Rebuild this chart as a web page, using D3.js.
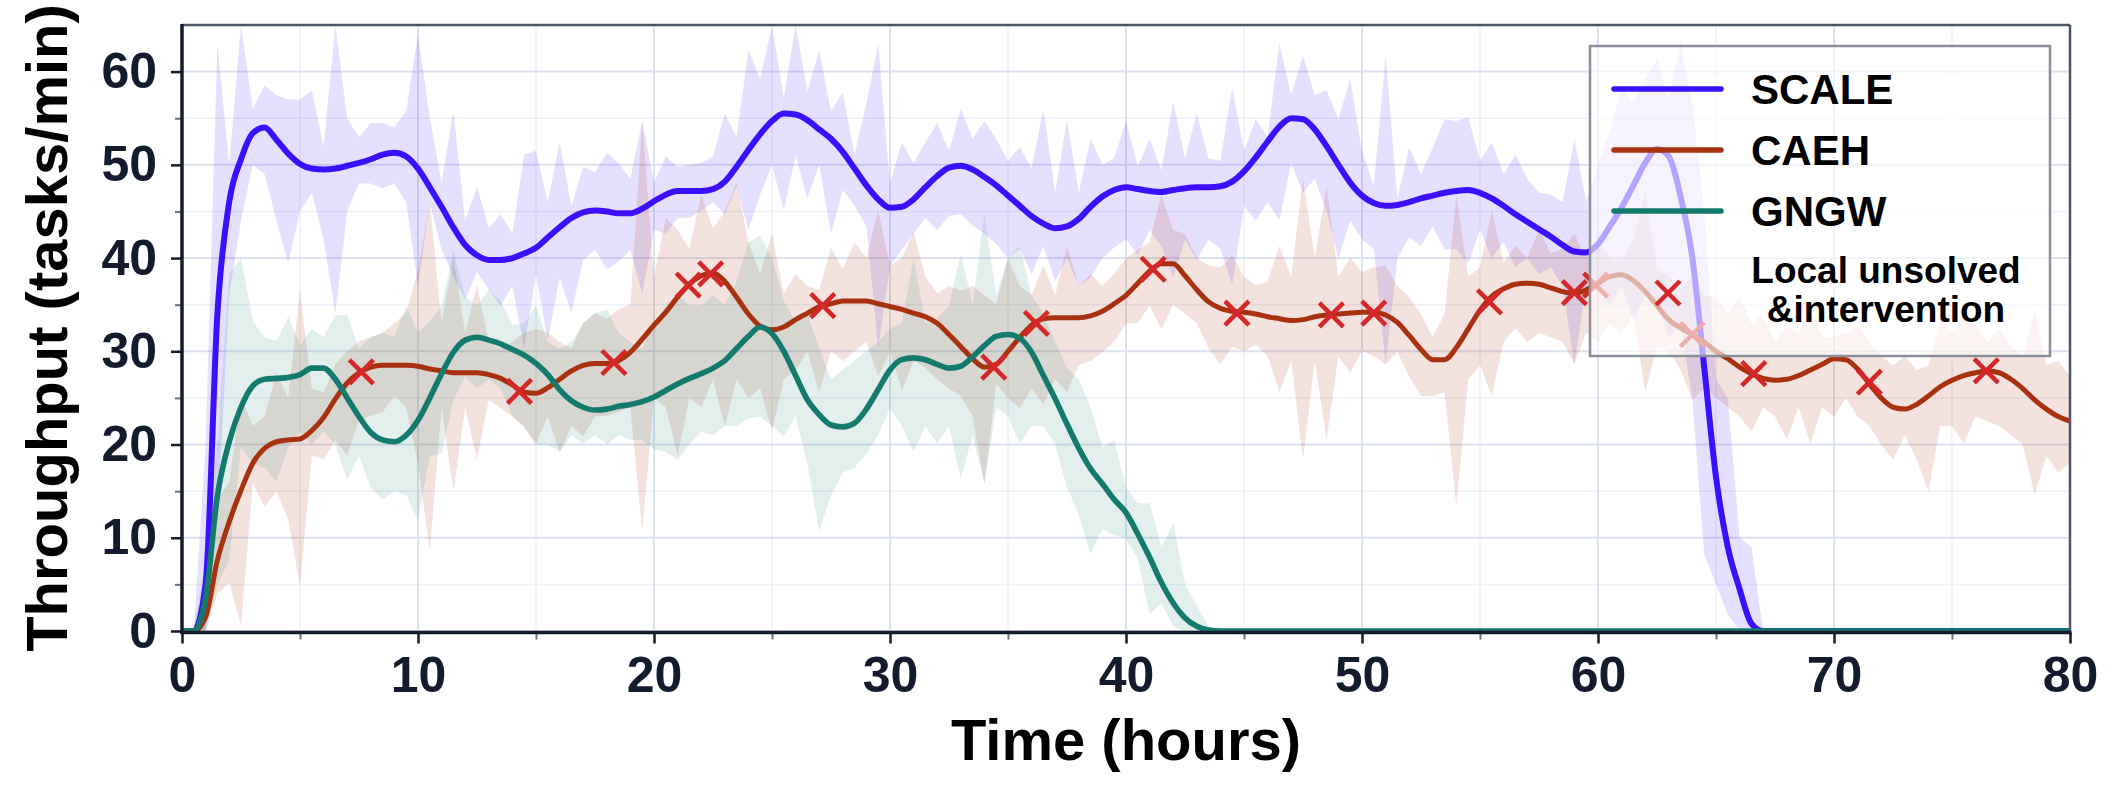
<!DOCTYPE html>
<html>
<head>
<meta charset="utf-8">
<script src="https://cdn.jsdelivr.net/npm/d3@7"></script>
<style>
  body { margin: 0; background: #fff; }
  svg text { font-family: 'Liberation Sans', Arial, sans-serif; font-weight: 700; }
</style>
</head>
<body>
<svg id="chart" width="2125" height="799"></svg>
<script>
// Time stamps (hours), one sample every half hour
const hours = d3.range(0, 80.5, 0.5);

// SCALE throughput: smoothed mean and spread band
const scaleMean = [
  0, 0, 5, 34, 46, 50.6, 53.4, 54.0, 52.7, 51.2,
  50.1, 49.6, 49.5, 49.6, 49.9, 50.2, 50.6, 51.1, 51.3, 50.9,
  49.6, 47.6, 45.5, 43.3, 41.4, 40.3, 39.8, 39.8, 40.0, 40.5,
  41.1, 42.2, 43.3, 44.3, 44.9, 45.1, 45.0, 44.8, 44.8, 45.3,
  46.1, 46.8, 47.2, 47.2, 47.2, 47.4, 48.2, 49.8, 51.6, 53.3,
  54.7, 55.5, 55.4, 54.8, 53.8, 52.8, 51.4, 49.6, 47.8, 46.3,
  45.4, 45.5, 46.3, 47.6, 48.8, 49.7, 49.9, 49.5, 48.7, 47.8,
  46.7, 45.6, 44.5, 43.7, 43.2, 43.4, 44.2, 45.5, 46.6, 47.3,
  47.6, 47.4, 47.2, 47.1, 47.3, 47.5, 47.6, 47.6, 47.7, 48.2,
  49.3, 50.8, 52.5, 54.1, 55.0, 54.9, 53.8, 52.0, 50.0, 48.1,
  46.7, 45.9, 45.6, 45.7, 46.0, 46.4, 46.7, 47.0, 47.2, 47.3,
  47.0, 46.4, 45.6, 44.7, 43.9, 43.1, 42.3, 41.4, 40.7, 40.6,
  41.5, 43.4, 45.4, 47.8, 50.2, 51.7, 50.9, 46.6, 40.0, 28.3,
  16.5, 9.0, 4.5, 0.8, 0, 0, 0, 0, 0, 0,
  0, 0, 0, 0, 0, 0, 0, 0, 0, 0,
  0, 0, 0, 0, 0, 0, 0, 0, 0, 0,
  0
];
const scaleUpper = [
  0, 0, 20, 63, 50, 65, 56, 58.5, 57.5, 57,
  57, 58, 52, 65, 55, 53, 54.5, 54.5, 54, 55.8,
  64, 55.1, 48.1, 55.8, 44, 47.7, 43.2, 44.7, 42.6, 51.1,
  51.5, 46, 52.4, 45.6, 49.8, 49.2, 51.3, 50.2, 48.5, 54.7,
  48.1, 50.9, 49.8, 50, 50.2, 50.9, 55.5, 53, 62.3, 59.2,
  65, 57.2, 65, 57.9, 62.3, 55.8, 57.7, 51.1, 56.6, 63,
  48, 52.4, 50.2, 52.4, 54.5, 51.5, 56, 52.8, 54.7, 52.8,
  50.4, 51.9, 49.6, 56, 47, 54.9, 47, 52.8, 50, 50.7,
  54.7, 49.8, 52.8, 49.4, 56.8, 50.7, 55.5, 50.7, 50.4, 58.3,
  51.5, 54.9, 53, 63, 57.5, 61.7, 57.5, 58, 54.9, 59.2,
  51.5, 47.7, 61.7, 46.4, 51.9, 49, 51.9, 54.9, 54.7, 55.1,
  50.5, 52.4, 49, 51.1, 48.5, 47, 46.8, 46, 52.8, 46,
  50, 53.6, 58.3, 56.6, 59.2, 61.3, 57, 63.2, 56.6, 45,
  27, 25, 10, 9, 0, 0, 0, 0, 0, 0,
  0, 0, 0, 0, 0, 0, 0, 0, 0, 0,
  0, 0, 0, 0, 0, 0, 0, 0, 0, 0,
  0
];
const scaleLower = [
  0, 0, 0, 12, 36, 44, 50, 49, 44, 39.5,
  45, 47, 42, 34, 45, 48, 48, 47.5, 48, 46,
  37, 45.9, 40.9, 38, 35.5, 38.5, 36.6, 34.9, 37, 30.3,
  38.3, 31.1, 37.9, 34.1, 39.8, 40.9, 38.8, 39.6, 40.9, 36.2,
  43, 42.6, 44.3, 44.3, 45.1, 46, 44.7, 47.7, 43, 46.8,
  50, 45.1, 51, 46.4, 50, 42.6, 47.3, 45.6, 43.4, 30.3,
  39.2, 40.9, 42.6, 44.3, 43, 44.5, 44.7, 43.5, 42.6, 41.5,
  40, 41, 38.3, 41.3, 37.5, 40, 37, 37.9, 40, 41.1,
  42, 40.3, 43, 41.3, 37.9, 42, 39.8, 42, 41, 37.1,
  45.6, 44, 46, 44, 50.2, 47, 48.5, 45, 40, 44,
  42, 41, 28.6, 40, 42.2, 41.3, 43.4, 40.9, 41, 39.4,
  43, 40, 41.7, 39, 40, 38.3, 39, 37, 28.6, 37,
  36.6, 35, 37, 33.2, 36, 35, 31.5, 33, 24.8, 8.2,
  5, 1.8, 0, 0, 0, 0, 0, 0, 0, 0,
  0, 0, 0, 0, 0, 0, 0, 0, 0, 0,
  0, 0, 0, 0, 0, 0, 0, 0, 0, 0,
  0
];

// CAEH throughput
const caehMean = [
  0, 0, 1.5, 7.6, 11.7, 15.1, 18.0, 19.6, 20.3, 20.5,
  20.6, 21.5, 22.9, 24.9, 26.6, 27.7, 28.3, 28.5, 28.5, 28.5,
  28.4, 28.1, 27.9, 27.7, 27.7, 27.7, 27.5, 27.1, 26.4, 25.6,
  25.5, 26.1, 27.0, 27.9, 28.5, 28.7, 28.7, 29.0, 29.9, 31.3,
  32.8, 34.2, 35.8, 37.2, 38.1, 38.4, 37.5, 35.8, 34.0, 32.7,
  32.3, 32.6, 33.4, 34.1, 34.8, 35.1, 35.4, 35.4, 35.4, 35.1,
  34.8, 34.5, 34.1, 33.7, 33.0, 31.8, 30.5, 29.2, 28.3, 28.6,
  30.0, 31.5, 32.8, 33.5, 33.6, 33.6, 33.6, 33.8, 34.3, 35.1,
  36.0, 37.3, 38.6, 39.4, 39.4, 38.1, 36.6, 35.3, 34.6, 34.3,
  34.2, 34.0, 33.7, 33.5, 33.3, 33.4, 33.7, 33.9, 34.0, 34.1,
  34.2, 34.2, 33.9, 33.1, 31.7, 30.2, 29.1, 29.1, 30.4, 32.4,
  34.4, 35.9, 36.7, 37.2, 37.3, 37.2, 36.8, 36.4, 36.2, 36.6,
  37.3, 38.0, 38.2, 37.6, 36.4, 34.9, 33.4, 32.5, 31.8, 31.0,
  30.0, 29.2, 28.3, 27.6, 27.1, 26.9, 27.0, 27.4, 28.0, 28.6,
  29.2, 29.1, 28.1, 26.5, 25.0, 24.0, 23.8, 24.3, 25.2, 26.2,
  26.9, 27.4, 27.7, 27.9, 27.7, 27.0, 26.0, 24.8, 23.8, 23.0,
  22.5
];
const caehUpper = [
  0, 0, 3, 14, 16, 25, 22, 23, 27.7, 25,
  36.6, 26, 25.6, 28.6, 30, 31.1, 31.5, 32, 33, 34.1,
  38.8, 46, 33, 40, 32, 37.1, 31, 30.3, 31, 32,
  32.4, 32, 31, 30.3, 33, 34.1, 33.5, 34.5, 35, 54.7,
  38, 44.3, 43, 41, 46.8, 43.2, 45, 48.1, 41.7, 38.3,
  42.6, 36.2, 38.3, 37, 36.6, 41.1, 38.8, 41.7, 40, 45.1,
  39.2, 40, 42.8, 38, 36.2, 37, 36.5, 37, 36, 35,
  40, 37, 36, 39.2, 36, 41.3, 37, 38.3, 37, 38.3,
  40, 40.9, 41.7, 46.8, 43, 42.6, 40, 39.2, 39, 40.3,
  38, 37.1, 37.5, 41.3, 38, 48.5, 40, 47.7, 38, 40,
  38.5, 39, 39.2, 37, 35.8, 34, 31.5, 34, 46.8, 38,
  39, 45.1, 39.5, 41.3, 40, 43, 40.5, 41, 42.6, 40,
  41.7, 40, 39.6, 42, 47.3, 39, 38, 36.5, 38.3, 36,
  35.8, 34, 35.8, 33, 33.9, 31, 32.8, 32, 34.5, 31.5,
  31.5, 32, 32.8, 31, 29.5, 28.5, 29.5, 28, 28.5, 33.6,
  32, 33.7, 33, 31, 32.4, 30.5, 29.5, 34.5, 28.5, 29,
  27.3
];
const caehLower = [
  0, 0, 0, 4, 5.2, 0.6, 15.8, 13.3, 15, 12,
  4.8, 18.8, 18.4, 20.5, 18.8, 22.6, 23.1, 23.5, 25.2, 24,
  18, 8.6, 24, 15, 24, 18.4, 24.8, 23.9, 23, 21.8,
  20.1, 23, 19.2, 22, 20.9, 23, 23.1, 23.5, 24, 10.7,
  25, 24, 18.8, 25, 24, 27, 22, 27, 25, 26,
  21.4, 27, 28, 30, 25.6, 30, 29, 30, 31, 27.3,
  30, 25.8, 29, 28.2, 27, 26, 25.2, 23.1, 15.8, 26.5,
  25, 23.9, 26, 24.3, 27, 25.6, 28.5, 29, 29.9, 31,
  33, 33, 34.9, 32.4, 35, 34, 33, 30.3, 28.6, 30.5,
  30, 30.7, 29.5, 25.6, 29, 18.4, 29, 20.5, 29.5, 27.7,
  30, 29.5, 28.6, 29.9, 27.3, 25.2, 25.2, 25.6, 13.3, 27,
  28.5, 25.2, 31, 32.5, 31, 32, 31.5, 31, 28.6, 32,
  31, 33, 32, 34, 25.6, 30.5, 30, 28, 24.8, 26,
  25, 24, 23, 21.4, 24, 23, 20.5, 24, 20.1, 24,
  23, 25, 23, 22, 20, 18.4, 21, 18.4, 15, 22,
  22, 20.1, 23, 22.5, 22, 21, 20, 14.6, 18.8, 17,
  18
];

// GNGW throughput
const gngwMean = [
  0, 0, 3.5, 14.5, 20.3, 24.0, 26.3, 27.0, 27.1, 27.2,
  27.5, 28.2, 28.2, 27.0, 25.0, 23.0, 21.3, 20.5, 20.3, 21.0,
  22.6, 25.0, 27.6, 29.9, 31.2, 31.5, 31.2, 30.8, 30.2, 29.6,
  28.7, 27.5, 25.9, 24.7, 24.0, 23.7, 23.8, 24.1, 24.3, 24.6,
  25.1, 25.8, 26.5, 27.1, 27.6, 28.2, 29.0, 30.3, 31.6, 32.6,
  31.9, 30.0, 27.4, 24.8, 23.2, 22.1, 21.9, 22.3, 23.8, 25.9,
  28.0, 29.1, 29.3, 29.1, 28.6, 28.2, 28.4, 29.4, 30.6, 31.6,
  31.8, 31.4, 29.9, 27.4, 24.9, 22.2, 19.6, 17.4, 15.8, 14.1,
  12.7, 10.4, 7.9, 5.2, 3.0, 1.4, 0.5, 0.1, 0, 0,
  0, 0, 0, 0, 0, 0, 0, 0, 0, 0,
  0, 0, 0, 0, 0, 0, 0, 0, 0, 0,
  0, 0, 0, 0, 0, 0, 0, 0, 0, 0,
  0, 0, 0, 0, 0, 0, 0, 0, 0, 0,
  0, 0, 0, 0, 0, 0, 0, 0, 0, 0,
  0, 0, 0, 0, 0, 0, 0, 0, 0, 0,
  0, 0, 0, 0, 0, 0, 0, 0, 0, 0,
  0
];
const gngwUpper = [
  0, 0, 8, 20, 38.3, 40, 33.2, 31.5, 31.1, 33.7,
  30.7, 32.4, 31.5, 33.9, 33.9, 30.3, 31.5, 32, 31.5, 34.9,
  32, 33.2, 34.9, 40.9, 35.8, 34.9, 36.6, 35.4, 32.8, 33,
  34.9, 31, 30.3, 31, 33, 34.1, 34.5, 32, 31, 30.3,
  33, 34.9, 36, 35, 34.9, 36, 35, 37.5, 41.7, 42.4,
  40, 35.4, 33.2, 34, 30.3, 27, 28, 29, 30, 31,
  32.4, 33, 40, 33, 33.5, 34.9, 40.5, 35, 44.7, 36,
  40, 41.3, 36, 34, 31, 28.2, 27, 24, 19.7, 20.5,
  15.4, 13.7, 13.7, 9, 11.6, 5, 2.7, 0.5, 0, 0,
  0, 0, 0, 0, 0, 0, 0, 0, 0, 0,
  0, 0, 0, 0, 0, 0, 0, 0, 0, 0,
  0, 0, 0, 0, 0, 0, 0, 0, 0, 0,
  0, 0, 0, 0, 0, 0, 0, 0, 0, 0,
  0, 0, 0, 0, 0, 0, 0, 0, 0, 0,
  0, 0, 0, 0, 0, 0, 0, 0, 0, 0,
  0, 0, 0, 0, 0, 0, 0, 0, 0, 0,
  0
];
const gngwLower = [
  0, 0, 0, 5, 7.6, 19.7, 18, 17.5, 16, 19.7,
  21.4, 20, 21.4, 20, 16.2, 18.8, 15.4, 14.1, 15, 14.6,
  11.9, 18.8, 19, 24.8, 27.3, 26, 27, 26, 23.1, 22,
  19.9, 20, 19.2, 21, 20.1, 21, 20, 21, 20.5, 20.5,
  19.5, 19.2, 18.4, 20, 21.4, 21, 22, 22, 22.8, 23,
  22, 20.9, 23.1, 18, 10.7, 14.6, 17, 17.5, 19, 21,
  23.9, 22, 19.2, 22, 20.1, 22, 16.3, 21, 15.8, 24,
  23, 20.1, 22, 22, 20, 15.4, 12.4, 8.2, 11, 10.3,
  9.9, 7.8, 1.8, 3, 0.5, 0, 0, 0, 0, 0,
  0, 0, 0, 0, 0, 0, 0, 0, 0, 0,
  0, 0, 0, 0, 0, 0, 0, 0, 0, 0,
  0, 0, 0, 0, 0, 0, 0, 0, 0, 0,
  0, 0, 0, 0, 0, 0, 0, 0, 0, 0,
  0, 0, 0, 0, 0, 0, 0, 0, 0, 0,
  0, 0, 0, 0, 0, 0, 0, 0, 0, 0,
  0, 0, 0, 0, 0, 0, 0, 0, 0, 0,
  0
];

// "Local unsolved & intervention" events on the CAEH curve
const eventHours  = [7.6, 14.3, 18.3, 21.45, 22.4, 27.15, 34.4, 36.2, 41.15, 44.7, 48.7, 50.5, 55.4, 59.0, 59.9, 64.0, 66.6, 71.5, 76.45];
const eventValues = [27.8, 25.7, 28.8, 37.1, 38.3, 34.9, 28.3, 33.0, 38.8, 34.1, 33.9, 34.1, 35.3, 36.3, 37.1, 31.8, 27.6, 26.7, 27.9];

// Axis ticks
const xMajor = [0, 10, 20, 30, 40, 50, 60, 70, 80];
const xMinor = [5, 15, 25, 35, 45, 55, 65, 75];
const yMajor = [0, 10, 20, 30, 40, 50, 60];
const yMinor = [5, 15, 25, 35, 45, 55];

const seriesNames  = ['SCALE', 'CAEH', 'GNGW'];
const seriesColors = ['#3b10ff', '#a8310f', '#147a6e'];
const seriesWidths = [6, 5, 5.6];
const bandOpacity  = [0.13, 0.14, 0.12];
const means  = [scaleMean, caehMean, gngwMean];
const uppers = [scaleUpper, caehUpper, gngwUpper];
const lowers = [scaleLower, caehLower, gngwLower];
const eventColor = '#d62728';
const eventLabel = ['Local unsolved', '&intervention'];

// Set up the SVG and scales
const svg = d3.select('#chart');
const x = d3.scaleLinear().domain([0, 80]).range([182, 2070]);
const y = d3.scaleLinear().domain([0, 65]).range([631, 25]);
const inkColor = '#141b2d';

svg.append('defs').append('clipPath').attr('id', 'plot-clip')
  .append('rect')
  .attr('x', x(0)).attr('y', y(65))
  .attr('width', x(80) - x(0)).attr('height', y(0) - y(65));

// Grid
const grid = svg.append('g');
grid.selectAll('.gx-minor').data(xMinor).join('line')
  .attr('x1', d => x(d)).attr('x2', d => x(d)).attr('y1', y(0)).attr('y2', y(65))
  .attr('stroke', '#eef1f7').attr('stroke-width', 1.5);
grid.selectAll('.gy-minor').data(yMinor).join('line')
  .attr('y1', d => y(d)).attr('y2', d => y(d)).attr('x1', x(0)).attr('x2', x(80))
  .attr('stroke', '#eef1f7').attr('stroke-width', 1.5);
grid.selectAll('.gx-major').data(xMajor).join('line')
  .attr('x1', d => x(d)).attr('x2', d => x(d)).attr('y1', y(0)).attr('y2', y(65))
  .attr('stroke', '#dce2ee').attr('stroke-width', 2);
grid.selectAll('.gy-major').data(yMajor).join('line')
  .attr('y1', d => y(d)).attr('y2', d => y(d)).attr('x1', x(0)).attr('x2', x(80))
  .attr('stroke', '#dce2ee').attr('stroke-width', 2);

// Bands and lines, clipped to the plot area
const plot = svg.append('g').attr('clip-path', 'url(#plot-clip)');

const area = d3.area()
  .x((d, i) => x(hours[i]))
  .y0(d => y(d[0]))
  .y1(d => y(d[1]));

const line = d3.line()
  .x((d, i) => x(hours[i]))
  .y(d => y(d))
  .curve(d3.curveMonotoneX);

seriesNames.forEach((name, k) => {
  plot.append('path')
    .datum(d3.zip(lowers[k], uppers[k]))
    .attr('d', area)
    .attr('fill', seriesColors[k])
    .attr('fill-opacity', bandOpacity[k]);
});

seriesNames.forEach((name, k) => {
  plot.append('path')
    .datum(means[k])
    .attr('d', line)
    .attr('fill', 'none')
    .attr('stroke', seriesColors[k])
    .attr('stroke-width', seriesWidths[k])
    .attr('stroke-linejoin', 'round');
});

// Event markers
const crossPath = 'M-12,-12L12,12M-12,12L12,-12';
svg.append('g').selectAll('path')
  .data(eventHours)
  .join('path')
  .attr('transform', (d, i) => `translate(${x(d)},${y(eventValues[i])})`)
  .attr('d', crossPath)
  .attr('stroke', eventColor)
  .attr('stroke-width', 4.5)
  .attr('fill', 'none');

// Axes
function styleAxis(g) {
  g.select('.domain').remove();
  g.attr('font-family', null).attr('font-size', 50);
  g.selectAll('text').attr('fill', inkColor);
}

svg.append('g')
  .attr('transform', `translate(${x(0)},0)`)
  .call(d3.axisLeft(y).tickValues(yMinor).tickSize(7).tickFormat(''))
  .call(g => { g.select('.domain').remove(); g.selectAll('line').attr('stroke', '#6b7280').attr('stroke-width', 2); });
svg.append('g')
  .attr('transform', `translate(0,${y(0) + 1.5})`)
  .call(d3.axisBottom(x).tickValues(xMinor).tickSize(7).tickFormat(''))
  .call(g => { g.select('.domain').remove(); g.selectAll('line').attr('stroke', '#6b7280').attr('stroke-width', 2); });

svg.append('g')
  .attr('transform', `translate(${x(0)},0)`)
  .call(d3.axisLeft(y).tickValues(yMajor).tickSize(11).tickPadding(14).tickFormat(d3.format('d')))
  .call(styleAxis)
  .call(g => g.selectAll('line').attr('stroke', inkColor).attr('stroke-width', 2.5));
svg.append('g')
  .attr('transform', `translate(0,${y(0) + 1.5})`)
  .call(d3.axisBottom(x).tickValues(xMajor).tickSize(11).tickPadding(13).tickFormat(d3.format('d')))
  .call(styleAxis)
  .call(g => g.selectAll('line').attr('stroke', inkColor).attr('stroke-width', 2.5));

// Spines
svg.append('line').attr('x1', x(0)).attr('x2', x(80)).attr('y1', y(65)).attr('y2', y(65))
  .attr('stroke', '#4b5563').attr('stroke-width', 2.5);
svg.append('line').attr('x1', x(80)).attr('x2', x(80)).attr('y1', y(65)).attr('y2', y(0))
  .attr('stroke', '#4b5563').attr('stroke-width', 2.5);
svg.append('line').attr('x1', x(0)).attr('x2', x(0)).attr('y1', y(65) - 1).attr('y2', y(0) + 3)
  .attr('stroke', inkColor).attr('stroke-width', 3.5);
svg.append('line').attr('x1', x(0) - 1.5).attr('x2', x(80) + 1.5).attr('y1', y(0) + 1.5).attr('y2', y(0) + 1.5)
  .attr('stroke', inkColor).attr('stroke-width', 3.5);

// Axis titles
svg.append('text')
  .attr('x', (x(0) + x(80)) / 2).attr('y', 760)
  .attr('text-anchor', 'middle').attr('font-size', 58).attr('fill', '#000')
  .text('Time (hours)');
svg.append('text')
  .attr('transform', `translate(67,${(y(0) + y(65)) / 2}) rotate(-90)`)
  .attr('text-anchor', 'middle').attr('font-size', 58).attr('fill', '#000')
  .text('Throughput (tasks/min)');

// Legend
const legend = svg.append('g');
legend.append('rect')
  .attr('x', 1590).attr('y', 46).attr('width', 460).attr('height', 310)
  .attr('fill', '#fff').attr('fill-opacity', 0.62)
  .attr('stroke', '#8a8f99').attr('stroke-width', 2.5);

seriesNames.forEach((name, k) => {
  const ly = 89 + k * 61;
  legend.append('line')
    .attr('x1', 1614).attr('x2', 1721).attr('y1', ly).attr('y2', ly)
    .attr('stroke', seriesColors[k]).attr('stroke-width', 5.5)
    .attr('stroke-linecap', 'round');
  legend.append('text')
    .attr('x', 1751).attr('y', ly + 15)
    .attr('font-size', 42).attr('fill', '#000')
    .text(name);
});

legend.append('path')
  .attr('transform', 'translate(1668,293)')
  .attr('d', crossPath)
  .attr('stroke', eventColor).attr('stroke-width', 4.5).attr('fill', 'none');
legend.selectAll('.ev-label').data(eventLabel).join('text')
  .attr('x', 1886).attr('y', (d, i) => 283 + i * 39)
  .attr('text-anchor', 'middle')
  .attr('font-size', 37).attr('fill', '#000')
  .text(d => d);
</script>
</body>
</html>
